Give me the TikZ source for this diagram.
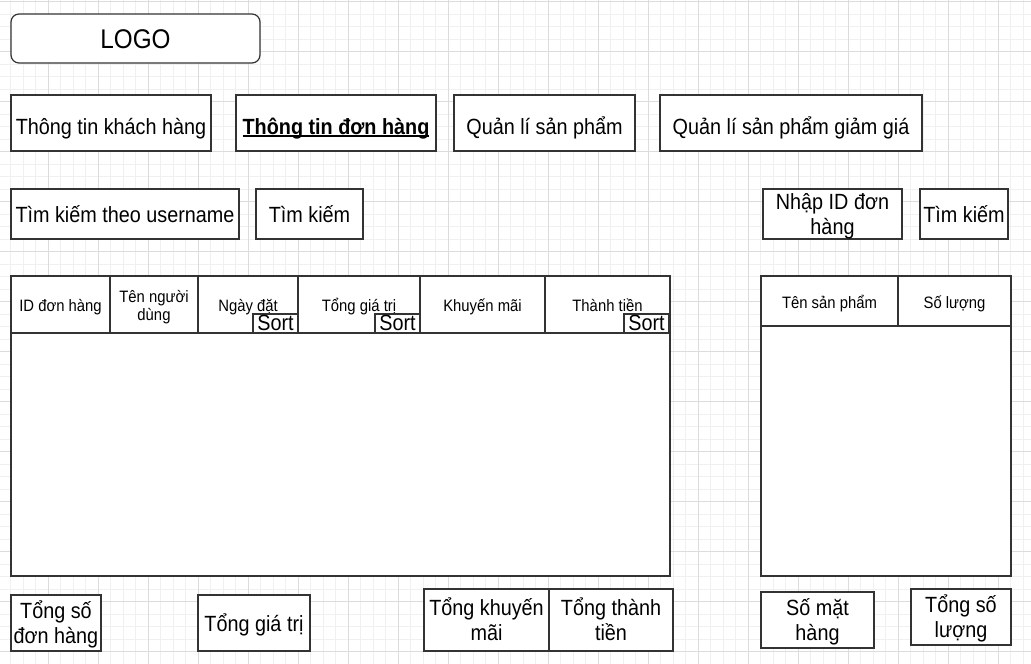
\documentclass[tikz,border=0pt]{standalone}
\usepackage{fontspec}
\setmainfont{Liberation Sans}[FakeStretch=0.9]
\usetikzlibrary{positioning,calc}

\definecolor{gridminor}{HTML}{F0F0F0}
\definecolor{gridmajor}{HTML}{DCDCDC}
\definecolor{boxline}{HTML}{333333}

\newcommand{\ulbold}[1]{\setbox0\hbox{\textbf{#1}}\rlap{\rule[-2.5pt]{\wd0}{1.2pt}}\box0}

\begin{document}
\begin{tikzpicture}[x=1pt,y=-1pt,
  box/.style={draw=boxline,line width=1.2pt,fill=white,inner sep=0pt,outer sep=0pt,align=center,
    font=\fontsize{22}{24.5}\selectfont,text height=17pt,text depth=1pt},
  twoline/.style={text height=41.5pt},
  navbox/.style={box,text height=22pt,text depth=0pt},
  cell/.style={box,font=\fontsize{16.5}{17.5}\selectfont,text height=15pt,text depth=1pt},
  celltwo/.style={cell,text height=32.5pt},
  sortbox/.style={box,minimum width=45pt,minimum height=19pt,anchor=south east,text height=14.5pt,text depth=1pt}]

\useasboundingbox (0,0) rectangle (1031,664);
\fill[white] (0,0) rectangle (1031,664);
\foreach \i in {1,...,82} \draw[gridminor,line width=0.8pt] (-1.7+12.5*\i,0) -- (-1.7+12.5*\i,664);
\foreach \j in {0,...,52} \draw[gridminor,line width=0.8pt] (0,1.5+12.5*\j) -- (1031,1.5+12.5*\j);
\foreach \i in {0,...,19} \draw[gridmajor,line width=0.8pt] (48.3+50*\i,0) -- (48.3+50*\i,664);
\foreach \j in {0,...,13} \draw[gridmajor,line width=0.8pt] (0,1.5+50*\j) -- (1031,1.5+50*\j);

\node[box,rounded corners=8pt,minimum width=249pt,minimum height=49pt,font=\fontsize{27}{30}\selectfont,text height=20pt,text depth=0.4pt] (logo) at (135.5,38.5) {LOGO};

% menu
\node[navbox,minimum width=200pt,minimum height=56pt] (navCust) at (111,123) {Thông tin khách hàng};
\node[navbox,minimum width=200pt,minimum height=56pt] (navOrder) at (336,123) {\ulbold{Thông tin đơn hàng}};
\node[navbox,minimum width=181pt,minimum height=56pt] (navProd) at (544.5,123) {Quản lí sản phẩm};
\node[navbox,minimum width=262pt,minimum height=56pt] (navSale) at (791,123) {Quản lí sản phẩm giảm giá};

% search
\node[box,minimum width=228pt,minimum height=50pt] (userIn) at (125,214) {Tìm kiếm theo username};
\node[box,minimum width=107pt,minimum height=50pt] (userBtn) at (309.5,214) {Tìm kiếm};
\node[box,twoline,minimum width=139pt,minimum height=50pt] (idIn) at (832.5,214) {Nhập ID đơn\\hàng};
\node[box,minimum width=88pt,minimum height=50pt] (idBtn) at (964,214) {Tìm kiếm};

% order table
\node[cell,minimum width=99pt,minimum height=57pt] (hId) at (60.5,304.5) {ID đơn hàng};
\node[celltwo,minimum width=88pt,minimum height=57pt] (hUser) at (154,304.5) {Tên người\\dùng};
\node[cell,minimum width=100pt,minimum height=57pt] (hDate) at (248,304.5) {Ngày đặt};
\node[cell,minimum width=122pt,minimum height=57pt] (hTotal) at (359,304.5) {Tổng giá trị};
\node[cell,minimum width=125pt,minimum height=57pt] (hPromo) at (482.5,304.5) {Khuyến mãi};
\node[cell,minimum width=125pt,minimum height=57pt] (hPay) at (607.5,304.5) {Thành tiền};
\node[box,minimum width=659pt,minimum height=243pt] (tBody) at (340.5,454.5) {};

\node[sortbox] (sDate) at (hDate.south east) {Sort};
\node[sortbox] (sTotal) at (hTotal.south east) {Sort};
\node[sortbox] (sPay) at ($(hPay.south east)+(-1,0)$) {Sort};

% product table
\node[cell,minimum width=137pt,minimum height=50pt] (hName) at (829.5,301) {Tên sản phẩm};
\node[cell,minimum width=113pt,minimum height=50pt] (hQty) at (954.5,301) {Số lượng};
\node[box,minimum width=250pt,minimum height=250pt] (rBody) at (886,451) {};

% totals
\node[box,twoline,minimum width=90pt,minimum height=56pt] (sumOrd) at (56,623) {Tổng số\\đơn hàng};
\node[box,minimum width=112pt,minimum height=56pt] (sumVal) at (254,623) {Tổng giá trị};
\node[box,twoline,minimum width=125pt,minimum height=62pt] (sumPromo) at (486.5,620) {Tổng khuyến\\mãi};
\node[box,twoline,minimum width=124pt,minimum height=62pt] (sumPay) at (611,620) {Tổng thành\\tiền};
\node[box,twoline,minimum width=113pt,minimum height=56pt] (sumItems) at (817.5,620) {Số mặt\\hàng};
\node[box,twoline,minimum width=100pt,minimum height=56pt] (sumQty) at (961,617) {Tổng số\\lượng};

\end{tikzpicture}
\end{document}
